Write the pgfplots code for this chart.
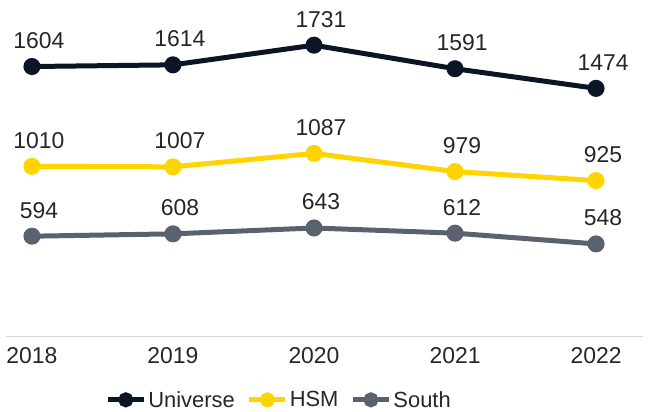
\documentclass[border=0pt]{standalone}
\usepackage{fontspec}
\setmainfont{Liberation Sans}
\usepackage{pgfplots}
\pgfplotsset{compat=1.18}
\definecolor{cUni}{HTML}{0B1526}
\definecolor{cHSM}{HTML}{FFD400}
\definecolor{cSouth}{HTML}{5A6270}
\definecolor{cText}{HTML}{262626}
\definecolor{cBase}{HTML}{D9D9D9}
\begin{document}
\begin{tikzpicture}
\useasboundingbox (-6bp,-76bp) rectangle (642bp,336bp);
\begin{axis}[
  scale only axis,
  width=637bp, height=336bp,
  xmin=-0.184, xmax=4.333,
  ymin=0, ymax=2000,
  axis y line=none,
  axis x line*=bottom,
  x axis line style={draw=cBase, line width=1pt, -},
  xtick={0,1,2,3,4},
  xticklabels={2018,2019,2020,2021,2022},
  major tick length=0pt,
  xticklabel style={font=\fontsize{23}{27}\selectfont, text=cText, yshift=-8bp},
  /pgf/number format/assume math mode=true,
  clip=false,
  nodes near coords,
  nodes near coords style={font=\fontsize{23}{27}\selectfont, text=cText, anchor=base, inner sep=0pt, yshift=18bp, xshift=7bp, /pgf/number format/fixed, /pgf/number format/1000 sep={}},
  every axis plot/.append style={line width=5bp, mark=*, mark size=6bp},
  legend style={draw=none, fill=none, at={(0.4286,-0.19)}, anchor=center, font=\fontsize{22}{26}\selectfont, text=cText, /tikz/every even column/.append style={column sep=10bp}},
  legend columns=3,
  legend image code/.code={\draw[mark repeat=2,mark phase=2, line width=5bp, mark size=5bp] plot coordinates {(0bp,0bp) (18bp,0bp) (36bp,0bp)};},
]
\addplot[color=cUni] coordinates {(0,1604) (1,1614) (2,1731) (3,1591) (4,1474)};
\addlegendentry{Universe}
\addplot[color=cHSM] coordinates {(0,1010) (1,1007) (2,1087) (3,979) (4,925)};
\addlegendentry{HSM}
\addplot[color=cSouth] coordinates {(0,594) (1,608) (2,643) (3,612) (4,548)};
\addlegendentry{South}
\end{axis}
\end{tikzpicture}
\end{document}
